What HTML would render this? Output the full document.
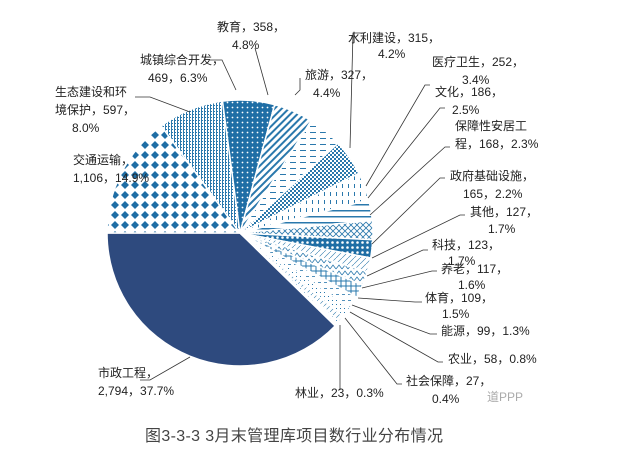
<!DOCTYPE html>
<html><head><meta charset="utf-8"><style>
html,body{margin:0;padding:0;background:#fff;}
svg{display:block;font-family:"Liberation Sans","Noto Sans CJK SC",sans-serif;}
</style></head><body>
<svg id="s" width="619" height="450" viewBox="0 0 619 450">
<defs>
<pattern id="p0" width="10" height="10" patternUnits="userSpaceOnUse"><rect width="10" height="10" fill="#fff"/><path d="M5 1L9 5L5 9L1 5Z" fill="#1f6ea5"/></pattern>
<pattern id="p1" width="3" height="3" patternUnits="userSpaceOnUse"><rect width="3" height="3" fill="#fff"/><rect width="2" height="1" fill="#2a78ac"/><rect y="1" width="1" height="2" fill="#2a78ac"/></pattern>
<pattern id="p2" width="5" height="5" patternUnits="userSpaceOnUse"><rect width="5" height="5" fill="#1f6ea5"/><circle cx="2.5" cy="2.5" r="0.9" fill="#fff"/></pattern>
<pattern id="p3" width="5" height="5" patternUnits="userSpaceOnUse" patternTransform="rotate(45)"><rect width="5" height="5" fill="#fff"/><rect width="2" height="5" fill="#2a78ac"/></pattern>
<pattern id="p4" width="10" height="6" patternUnits="userSpaceOnUse"><rect width="10" height="6" fill="#fff"/><rect width="6" height="1" fill="#2a78ac"/></pattern>
<pattern id="p5" width="4" height="4" patternUnits="userSpaceOnUse"><rect width="4" height="4" fill="#fff"/><rect width="2" height="2" fill="#2a78ac"/><rect x="2" y="2" width="2" height="2" fill="#2a78ac"/></pattern>
<pattern id="p6" width="6" height="8" patternUnits="userSpaceOnUse"><rect width="6" height="8" fill="#fff"/><rect width="1" height="4" fill="#2a78ac"/></pattern>
<pattern id="p7" width="6" height="6" patternUnits="userSpaceOnUse"><rect width="6" height="6" fill="#fff"/><rect width="6" height="1.5" fill="#2a78ac"/></pattern>
<pattern id="p8" width="6" height="6" patternUnits="userSpaceOnUse"><rect width="6" height="6" fill="#fff"/><path d="M0 0L6 6M6 0L0 6" stroke="#2a78ac" stroke-width="0.8"/></pattern>
<pattern id="p9" width="5" height="5" patternUnits="userSpaceOnUse"><rect width="5" height="5" fill="#1f6ea5"/><circle cx="2.5" cy="2.5" r="1.3" fill="#fff"/></pattern>
<pattern id="p10" width="6" height="6" patternUnits="userSpaceOnUse"><rect width="6" height="6" fill="#fff"/><path d="M0 6L6 0" stroke="#2a78ac" stroke-width="0.6"/></pattern>
<pattern id="p11" width="6" height="6" patternUnits="userSpaceOnUse"><rect width="6" height="6" fill="#fff"/><path d="M0 5L3 1L6 5" fill="none" stroke="#2a78ac" stroke-width="0.8"/></pattern>
<pattern id="p12" width="5" height="5" patternUnits="userSpaceOnUse"><rect width="5" height="5" fill="#fff"/><path d="M0 1H5M1 0V5" stroke="#2a78ac" stroke-width="1"/></pattern>
<pattern id="p13" width="6" height="6" patternUnits="userSpaceOnUse"><rect width="6" height="6" fill="#fff"/><rect width="3" height="0.8" fill="#2a78ac"/></pattern>
<pattern id="p14" width="4" height="4" patternUnits="userSpaceOnUse"><rect width="4" height="4" fill="#fff"/><rect width="1" height="1" fill="#2a78ac"/></pattern>
</defs>
<g id="pie"></g>
<g fill="none" stroke="#333" stroke-width="0.8">
<path d="M255 48L268 95"/><path d="M365 33L353 33L350 148"/><path d="M210 60L222 60L236 90"/>
<path d="M300 78L300 90L295 95"/><path d="M135 97L150 97L190 112"/>
<path d="M430 85L425 85L366 186"/><path d="M445 108L440 108L368 198"/>
<path d="M450 147L445 147L370 215"/><path d="M445 178L440 178L372 244"/>
<path d="M465 215L460 215L372 258"/><path d="M428 250L423 250L367 276"/>
<path d="M437 271L432 271L362 288"/><path d="M422 302L415 302L358 298"/>
<path d="M437 334L430 334L352 305"/><path d="M443 362L438 362L350 312"/>
<path d="M402 384L397 384L345 318"/><path d="M340 390L340 325"/>
<path d="M140 380L150 380L190 357"/>
</g>
<g font-size="12" fill="#222">
<text x="217" y="31">教育，358，</text><text x="232" y="49">4.8%</text>
<text x="348" y="42">水利建设，315，</text><text x="378" y="58">4.2%</text>
<text x="140" y="64">城镇综合开发，</text><text x="148" y="82">469，6.3%</text>
<text x="305" y="79">旅游，327，</text><text x="313" y="97">4.4%</text>
<text x="432" y="66">医疗卫生，252，</text><text x="462" y="84">3.4%</text>
<text x="435" y="96">文化，186，</text><text x="452" y="114">2.5%</text>
<text x="455" y="130">保障性安居工</text><text x="455" y="148">程，168，2.3%</text>
<text x="55" y="96">生态建设和环</text><text x="55" y="114">境保护，597，</text><text x="72" y="132">8.0%</text>
<text x="73" y="164">交通运输，</text><text x="73" y="182">1,106，14.9%</text>
<text x="450" y="180">政府基础设施，</text><text x="463" y="198">165，2.2%</text>
<text x="470" y="216">其他，127，</text><text x="488" y="233">1.7%</text>
<text x="432" y="249">科技，123，</text><text x="448" y="265">1.7%</text>
<text x="441" y="273">养老，117，</text><text x="458" y="289">1.6%</text>
<text x="425" y="302">体育，109，</text><text x="442" y="318">1.5%</text>
<text x="441" y="335">能源，99，1.3%</text>
<text x="448" y="363">农业，58，0.8%</text>
<text x="406" y="385">社会保障，27，</text><text x="432" y="403">0.4%</text>
<text x="98" y="377">市政工程，</text><text x="98" y="395">2,794，37.7%</text>
<text x="295" y="397">林业，23，0.3%</text>
<text x="487" y="401" fill="#aaa">道PPP</text>
</g>
<text x="145" y="441" font-size="16" fill="#444" textLength="298" lengthAdjust="spacing">图3-3-3  3月末管理库项目数行业分布情况</text>
</svg>
<script>
var cx=240,cy=233,r=133;
var pcts=[37.7,14.9,8.0,6.3,4.8,4.2,4.4,3.4,2.5,2.3,2.2,1.7,1.7,1.6,1.5,1.3,0.8,0.4,0.3];
var fills=["#2e4a7e","url(#p0)","url(#p1)","url(#p2)","url(#p3)","url(#p4)","url(#p5)","url(#p6)","url(#p7)","url(#p8)","url(#p9)","url(#p10)","url(#p11)","url(#p12)","url(#p13)","url(#p14)","url(#p10)","url(#p14)","url(#p13)"];
var a=134.3,g=document.getElementById('pie'),h='';
function pt(d){var t=d*Math.PI/180;return [cx+r*Math.sin(t),cy-r*Math.cos(t)];}
for(var i=0;i<pcts.length;i++){var b=a+pcts[i]*3.6;var p1=pt(a),p2=pt(b);
h+='<path d="M'+cx+' '+cy+'L'+p1[0].toFixed(1)+' '+p1[1].toFixed(1)+'A'+r+' '+r+' 0 '+((b-a)>180?1:0)+' 1 '+p2[0].toFixed(1)+' '+p2[1].toFixed(1)+'Z" fill="'+fills[i]+'" stroke="#fff" stroke-width="1.5"/>';a=b;}
g.innerHTML=h;
</script>
</body></html>
